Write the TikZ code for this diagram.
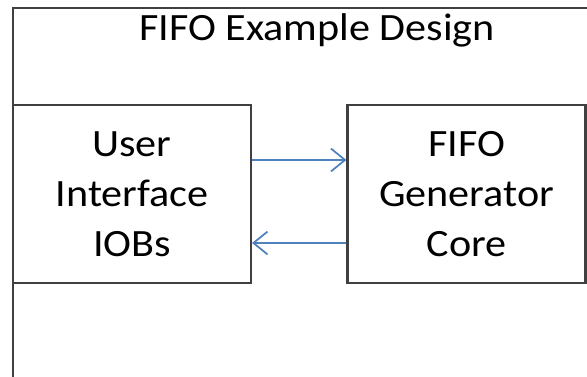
\documentclass[tikz,border=0pt]{standalone}
\usepackage{fontspec}
\setmainfont{Carlito}[FakeStretch=1.09]
\usetikzlibrary{arrows.meta}
\definecolor{linkblue}{RGB}{79,129,189}
\tikzset{
  blockbox/.style={draw=black!75, line width=1.2pt, minimum width=4.76cm,
    minimum height=3.56cm, align=center, inner sep=0pt,
    font=\fontsize{22pt}{28.45pt}\selectfont},
  link/.style={linkblue, line width=1pt, -{Straight Barb[length=8pt,width=13pt]}}
}
\begin{document}
\begin{tikzpicture}
    \useasboundingbox (0,0) rectangle (11.74,7.54);
    \begin{scope}
      \clip (0,0) rectangle (11.74,7.54);
      \draw[black!75, line width=1.2pt] (0.26,-0.2) -- (0.26,7.38) -- (12,7.38);
    \end{scope}
    \node (title) at (6.34,6.94) {\fontsize{22pt}{28.45pt}\selectfont FIFO Example Design};
    \node[blockbox] (iob) at (2.64,3.66) {User\\Interface\\IOBs};
    \node[blockbox] (core) at (9.33,3.66) {FIFO\\Generator\\Core};
    \draw[link] (iob.east |- 0,4.34) -- (core.west |- 0,4.34);
    \draw[link] (core.west |- 0,2.68) -- (iob.east |- 0,2.68);
  \end{tikzpicture}
\end{document}
